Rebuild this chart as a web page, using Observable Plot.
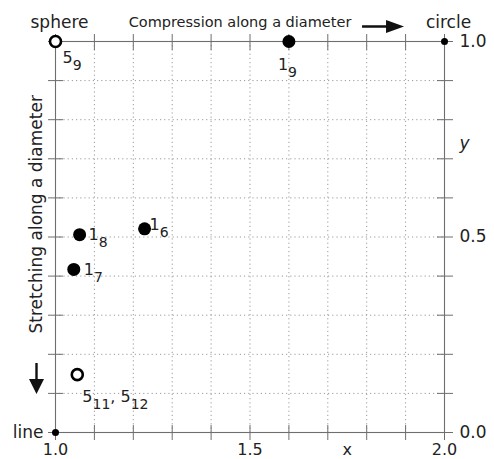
<!DOCTYPE html>
<html>
<head>
<meta charset="utf-8">
<script src="https://cdn.jsdelivr.net/npm/d3@7"></script>
<script src="https://cdn.jsdelivr.net/npm/@observablehq/plot@0.6"></script>
<style>
  html, body { margin: 0; padding: 0; background: #fff; }
  #chart { width: 494px; height: 459px; }
</style>
</head>
<body>
<div id="chart"></div>
<script>
// ---------- data ----------
const pointNames = ["5_9", "1_9", "1_6", "1_8", "1_7", "5_11, 5_12"];
const pointX     = [1.0,   1.6,   1.229, 1.062, 1.047, 1.056];
const pointY     = [1.0,   1.0,   0.521, 0.506, 0.417, 0.148];
const pointOpen  = [true,  false, false, false, false, true];

const cornerNames = ["sphere", "circle", "line"];
const cornerX     = [1.0, 2.0, 1.0];
const cornerY     = [1.0, 1.0, 0.0];

const xTicks = [1.0, 1.1, 1.2, 1.3, 1.4, 1.5, 1.6, 1.7, 1.8, 1.9, 2.0];
const yTicks = [0.0, 0.1, 0.2, 0.3, 0.4, 0.5, 0.6, 0.7, 0.8, 0.9, 1.0];
const xGrid = [1.1, 1.2, 1.3, 1.4, 1.5, 1.6, 1.7, 1.8, 1.9];
const yGrid = [0.1, 0.2, 0.3, 0.4, 0.5, 0.6, 0.7, 0.8, 0.9];
const xLabelAt   = [1.0, 1.5, 1.75, 2.0];
const xLabelText = ["1.0", "1.5", "x", "2.0"];
const yLabelAt   = [0.0, 0.5, 0.74, 1.0];
const yLabelText = ["0.0", "0.5", "y", "1.0"];

const topNote  = "Compression along a diameter";
const sideNote = "Stretching along a diameter";

// ---------- build ----------
const points = pointNames.map((name, i) => ({name, x: pointX[i], y: pointY[i], open: pointOpen[i]}));
const corners = cornerNames.map((name, i) => ({name, x: cornerX[i], y: cornerY[i]}));

// label offsets (px) for each point label
const labelOffset = [[7, 16], [-11, 23], [5, -4], [9, 0], [10, 0], [5, 22]];

// arrow symbols (fixed pixel geometry)
function arrowSymbol(shaft, head, width, thick) {
  return {
    draw(ctx) {
      const L = shaft + head, x0 = -L / 2, xh = x0 + shaft, x1 = L / 2, t = thick / 2, w = width / 2;
      ctx.moveTo(x0, -t); ctx.lineTo(xh, -t); ctx.lineTo(xh, -w); ctx.lineTo(x1, 0);
      ctx.lineTo(xh, w); ctx.lineTo(xh, t); ctx.lineTo(x0, t); ctx.closePath();
    }
  };
}
const rightArrow = arrowSymbol(24, 18, 13, 2.4);
const downArrow = arrowSymbol(16, 15, 15, 2.4);

const font = "DejaVu Sans, sans-serif";
const axisColor = "#6e6e6e";

const labelMarks = points.map((p, i) =>
  Plot.text([p], {x: "x", y: "y", text: "name", textAnchor: "start",
    dx: labelOffset[i][0], dy: labelOffset[i][1], fontSize: 16, fill: "#222"})
);

const chart = Plot.plot({
  width: 494,
  height: 459,
  marginLeft: 55,
  marginRight: 50,
  marginTop: 41,
  marginBottom: 27,
  x: {domain: [1, 2], label: null},
  y: {domain: [0, 1], label: null},
  style: {fontFamily: font, background: "#fff", color: "#222", overflow: "visible"},
  marks: [
    Plot.gridX(xGrid, {stroke: "#9a9a9a", strokeOpacity: 1, strokeDasharray: "1.2,3"}),
    Plot.gridY(yGrid, {stroke: "#9a9a9a", strokeOpacity: 1, strokeDasharray: "1.2,3"}),
    Plot.frame({stroke: axisColor, strokeWidth: 1.1}),
    // crossing tick marks
    Plot.axisX(xTicks, {anchor: "bottom", label: null, tickSize: 15, dy: -7, tickFormat: () => "", stroke: axisColor}),
    Plot.axisX(xTicks, {anchor: "top", label: null, tickSize: 16, dy: 8, tickFormat: () => "", stroke: axisColor}),
    Plot.axisY(yTicks, {anchor: "left", label: null, tickSize: 15, dx: 8, tickFormat: () => "", stroke: axisColor}),
    Plot.axisY(yTicks, {anchor: "right", label: null, tickSize: 16, dx: -8, tickFormat: () => "", stroke: axisColor}),
    // tick labels
    Plot.axisX(xLabelAt, {anchor: "bottom", label: null, tickSize: 0, tickPadding: 11, fontSize: 16,
      tickFormat: d => xLabelText[xLabelAt.indexOf(d)], fill: "#222"}),
    Plot.axisY(yLabelAt, {anchor: "right", label: null, tickSize: 0, tickPadding: 15, fontSize: 17,
      tickFormat: d => yLabelText[yLabelAt.indexOf(d)], fill: "#222"}),
    // corner names
    Plot.text(corners.slice(0, 2), {x: "x", y: "y", text: "name", dx: 4, dy: -19, fontSize: 17, fill: "#222"}),
    Plot.text(corners.slice(2), {x: "x", y: "y", text: "name", textAnchor: "end", dx: -12, dy: 0, fontSize: 17, fill: "#222"}),
    Plot.dot(corners.slice(1), {x: "x", y: "y", r: 3.5, fill: "#000"}),
    // notes and arrows
    Plot.text([topNote], {frameAnchor: "top", lineAnchor: "middle", dx: -10, dy: -19, fontSize: 14.5, fill: "#222"}),
    Plot.dot([{x: 1.842, y: 1}], {x: "x", y: "y", dy: -15, symbol: rightArrow, fill: "#111", stroke: "none"}),
    Plot.text([sideNote], {x: () => 1, y: () => 0.558, dx: -19, rotate: -90, fontSize: 17, fill: "#222"}),
    Plot.dot([{x: 1, y: 0.138}], {x: "x", y: "y", dx: -19, symbol: downArrow, rotate: 90, fill: "#111", stroke: "none"}),
    // points
    Plot.dot(points.filter(d => !d.open), {x: "x", y: "y", r: 6.5, fill: "#000"}),
    Plot.dot(points.filter(d => d.open), {x: "x", y: "y", r: 5.5, fill: "#fff", stroke: "#000", strokeWidth: 2.6}),
    ...labelMarks
  ]
});

// subscripts for point labels
d3.select(chart).selectAll("text").filter(function () { return /_\d/.test(this.textContent); }).each(function () {
  const s = this.textContent;
  const el = d3.select(this);
  el.text(null);
  let sub = false;
  s.split(/(_\d+)/).forEach(part => {
    if (!part) return;
    if (part.startsWith("_")) {
      el.append("tspan").attr("font-size", 14).attr("dy", 7).text(part.slice(1));
      sub = true;
    } else {
      el.append("tspan").attr("dy", sub ? -7 : 0).text(part);
      sub = false;
    }
  });
});
// italic y label
d3.select(chart).selectAll("text").filter(function () { return this.textContent === "y"; })
  .attr("font-style", "italic");

document.getElementById("chart").appendChild(chart);
</script>
</body>
</html>
